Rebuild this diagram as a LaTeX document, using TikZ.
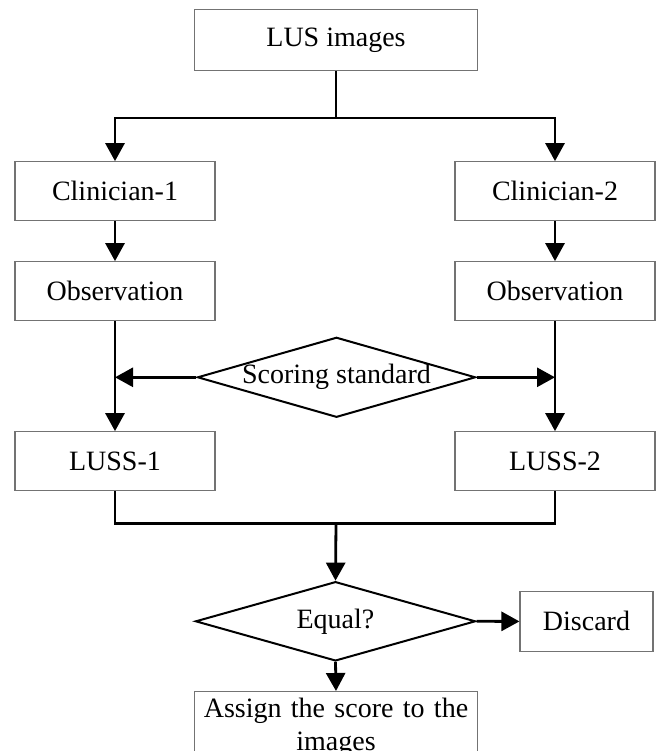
\documentclass[tikz,border=0pt]{standalone}
\usepackage{fontspec}
\setmainfont{Liberation Serif}
\usetikzlibrary{arrows.meta,shapes.geometric}
\begin{document}
\begin{tikzpicture}[x=1pt,y=-1pt,
  every node/.style={font=\fontsize{28}{33}\selectfont},
  box/.style={draw=black!55,line width=1.1pt,rectangle,inner sep=0pt,fill=white},
  colbox/.style={box,minimum width=200pt,minimum height=59pt},
  dia/.style={draw=black,line width=2pt,shape=diamond,inner sep=0pt,aspect=3.5},
  conn/.style={draw=black,line width=2.8pt},
  arr/.style={conn,-{Triangle[length=18pt,width=19pt]}}
]
\useasboundingbox (0,0) rectangle (659,751);
\begin{scope}
\clip (0,0) rectangle (659,751);
\node[box,minimum width=283pt,minimum height=60.7pt] (lus) at (336,40.3) {LUS images};
\node[colbox] (c1) at (115,191.2) {Clinician-1};
\node[colbox] (c2) at (555,191.2) {Clinician-2};
\node[colbox] (o1) at (115,291.2) {Observation};
\node[colbox] (o2) at (555,291.2) {Observation};
\node[dia,minimum width=278pt,minimum height=80pt] (sc) at (336.5,377.3) {Scoring standard};
\node[colbox] (l1) at (115,461.2) {LUSS-1};
\node[colbox] (l2) at (555,461.2) {LUSS-2};
\node[dia,minimum width=280pt,minimum height=79.3pt] (eq) at (335.5,621.3) {Equal?};
\node[box,minimum width=133pt,minimum height=59.3pt] (dc) at (586.5,621.4) {Discard};
\node[box,anchor=north,text width=283pt,align=center,inner ysep=4.5pt,minimum height=72pt] (as) at (336,691) {Assign the score to the\\images};

\coordinate (split) at (336,118);
\coordinate (j1) at (115,377.3);
\coordinate (j2) at (555,377.3);
\coordinate (m) at (336,523.3);

\draw[conn] (lus.south) -- (split);
\draw[arr] (split) -| (c1.north);
\draw[arr] (split) -| (c2.north);
\draw[arr] (c1) -- (o1);
\draw[arr] (c2) -- (o2);
\draw[arr] (o1) -- (l1);
\draw[arr] (o2) -- (l2);
\draw[arr] (sc.west) -- (j1);
\draw[arr] (sc.east) -- (j2);
\draw[conn] (l1.south) |- (m) -| (l2.south);
\draw[arr] (m) -- (eq.north);
\draw[arr] (eq.east) -- (dc.west);
\draw[arr] (eq.south) -- (as.north);
\end{scope}
\end{tikzpicture}
\end{document}
